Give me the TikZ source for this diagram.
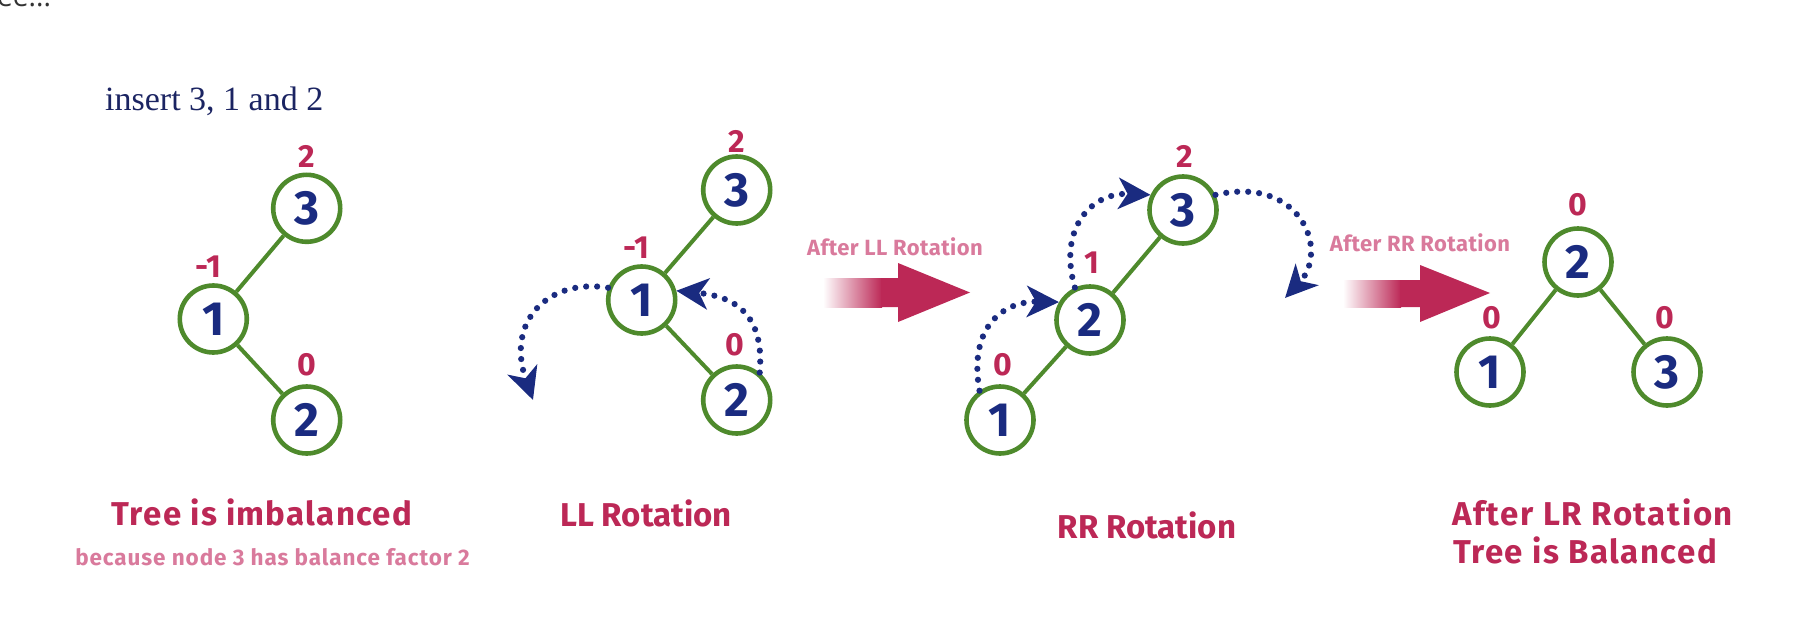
\documentclass[tikz,border=0pt]{standalone}
\usepackage{fontspec}
\setmainfont{Fira Sans}
\newfontfamily\serifx{Liberation Serif}
\newfontfamily\pagefont{Open Sans}
\usetikzlibrary{arrows.meta}
\definecolor{ringgreen}{HTML}{4E8A2C}
\definecolor{navy}{HTML}{1A2B80}
\definecolor{crimson}{HTML}{BC2856}
\definecolor{pinkl}{HTML}{D97A9C}
\definecolor{inknavy}{HTML}{1B2462}
\tikzset{
  avl/.style={circle, draw=ringgreen, line width=4.6pt, minimum size=67pt, inner sep=0pt,
    font=\bfseries\fontsize{48}{48}\selectfont, text=navy},
  bfac/.style={font=\bfseries\fontsize{32}{32}\selectfont, text=crimson, inner sep=0pt},
  treeedge/.style={ringgreen, line width=4pt},
  rot/.style={navy, line width=6.2pt, line cap=round, dash pattern=on 0pt off 11pt,
    -{Stealth[length=32pt,width=31pt,inset=9pt]}},
  caption/.style={font=\bfseries\fontsize{33}{33}\selectfont, text=crimson, inner sep=0pt},
  small/.style={font=\bfseries\fontsize{22}{22}\selectfont\addfontfeature{LetterSpace=2}, text=pinkl, inner sep=0pt}
}
\begin{document}
\begin{tikzpicture}[x=1pt,y=-1pt]
\useasboundingbox (0,0) rectangle (1800,632);
\node[anchor=base west, inner sep=0pt, text=black!80, font=\pagefont\fontsize{28}{28}\selectfont] (cut) at (-3,6) {ee...};
\node[anchor=base west, inner sep=0pt, text=inknavy, font=\serifx\fontsize{34}{34}\selectfont] (ins) at (105,110) {insert 3, 1 and 2};

% stage 1
\node[avl] (a3) at (306.7,208.3) {3};
\node[avl] (a1) at (213.3,319) {1};
\node[avl] (a2) at (306.7,420) {2};
\draw[treeedge] (a3) -- (a1);
\draw[treeedge] (a1) -- (a2);
\node[bfac] (la3) at (306.7,156.7) {2};
\node[bfac] (la1) at (208,266.7) {-1};
\node[bfac] (la2) at (306.7,365) {0};
\node[caption, anchor=base, font=\bfseries\fontsize{33}{33}\selectfont\addfontfeature{LetterSpace=4}] (cap1) at (262,525) {Tree is imbalanced};
\node[small, anchor=base, font=\bfseries\fontsize{22.5}{22.5}\selectfont\addfontfeature{LetterSpace=4}] (cap1b) at (272.5,565.7) {because node 3 has balance factor 2};

% stage 2
\node[avl] (b3) at (736.7,190) {3};
\node[avl] (b1) at (641.7,300) {1};
\node[avl] (b2) at (736.7,400) {2};
\draw[treeedge] (b3) -- (b1);
\draw[treeedge] (b1) -- (b2);
\node[bfac] (lb3) at (736.7,141.7) {2};
\node[bfac] (lb1) at (636.7,248) {-1};
\node[bfac] (lb2) at (735,345) {0};
\coordinate (t1) at (533,400);
\draw[rot] (b1.160) .. controls (550,278) and (505,320) .. (t1);
\draw[rot] (b2.50) .. controls (765,310) and (730,296) .. (b1.15);
\node[caption, anchor=base] (cap2) at (646,526.7) {LL Rotation};

% arrow 1
\node[small] (arr1) at (895,246.7) {After LL Rotation};
\shade[left color=white, right color=crimson] (823,278) rectangle (882,307);
\fill[crimson] (881,278) -- (898,278) -- (898,263) -- (970,292.5) -- (898,322) -- (898,307) -- (881,307) -- cycle;

% stage 3
\node[avl] (c3) at (1183,210) {3};
\node[avl] (c2) at (1090,320) {2};
\node[avl] (c1) at (1000,420) {1};
\draw[treeedge] (c3) -- (c2);
\draw[treeedge] (c2) -- (c1);
\node[bfac] (lc3) at (1185,156.7) {2};
\node[bfac] (lc2) at (1091.7,263) {1};
\node[bfac] (lc1) at (1003,365) {0};
\draw[rot] (c1.125) .. controls (968,325) and (1005,301) .. (c2.150);
\draw[rot] (c2.115) .. controls (1058,230) and (1090,192) .. (c3.155);
\coordinate (t2) at (1285,298);
\draw[rot] (c3.25) .. controls (1300,175) and (1330,250) .. (t2);
\node[caption, anchor=base] (cap3) at (1147,538) {RR Rotation};

% arrow 2
\node[small] (arr2) at (1420,243) {After RR Rotation};
\shade[left color=white, right color=crimson] (1343,280) rectangle (1401,307);
\fill[crimson] (1400,280) -- (1420,280) -- (1420,265) -- (1490,293) -- (1420,322) -- (1420,307) -- (1400,307) -- cycle;

% stage 4
\node[avl] (d2) at (1578,262) {2};
\node[avl] (d1) at (1490,372) {1};
\node[avl] (d3) at (1667,372) {3};
\draw[treeedge] (d2) -- (d1);
\draw[treeedge] (d2) -- (d3);
\node[bfac] (ld2) at (1578,205) {0};
\node[bfac] (ld1) at (1492,318) {0};
\node[bfac] (ld3) at (1665,318) {0};
\node[caption, anchor=base west, font=\bfseries\fontsize{33}{33}\selectfont\addfontfeature{LetterSpace=5}] (cap4) at (1452,525) {After LR Rotation};
\node[caption, anchor=base west, font=\bfseries\fontsize{33}{33}\selectfont\addfontfeature{LetterSpace=4.5}] (cap4b) at (1453,563) {Tree is Balanced};
\end{tikzpicture}
\end{document}
